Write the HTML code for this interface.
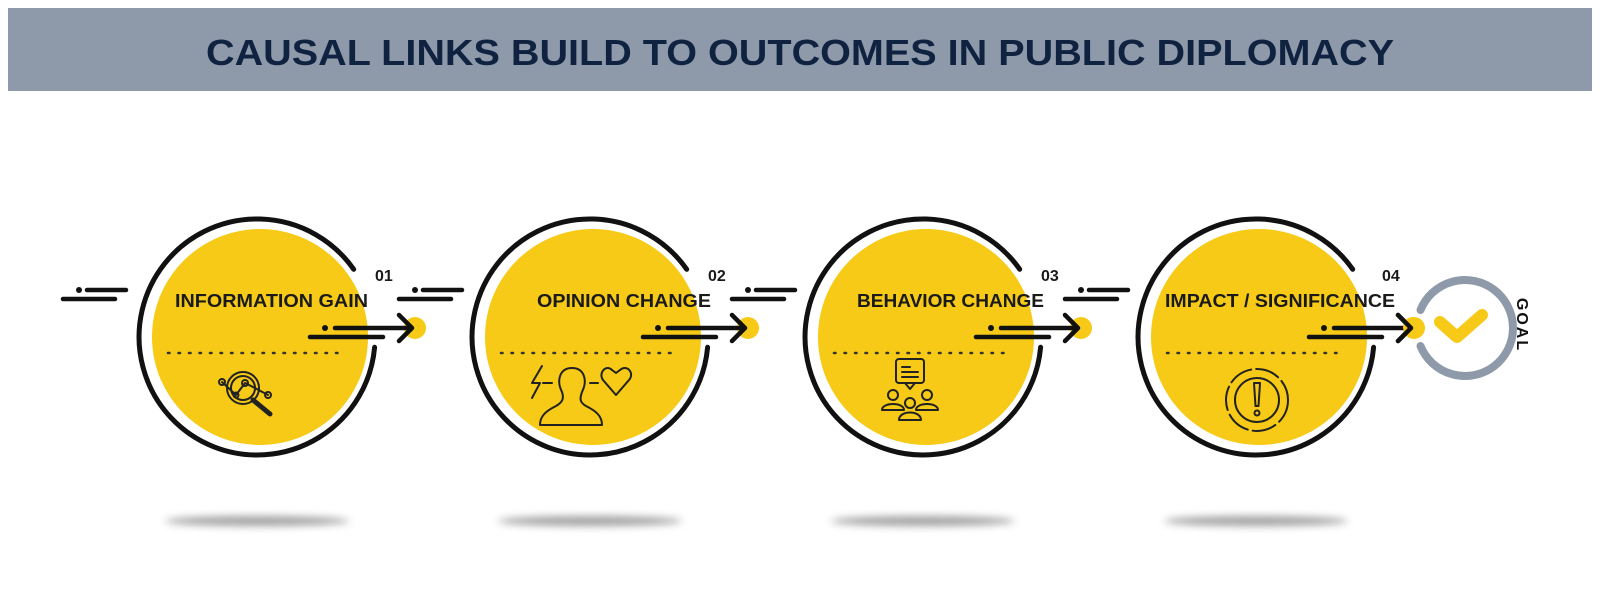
<!DOCTYPE html>
<html><head><meta charset="utf-8"><style>
html,body{margin:0;padding:0;background:#fff;width:1600px;height:592px;overflow:hidden}
svg{display:block}
</style></head><body>
<svg width="1600" height="592" viewBox="0 0 1600 592" xmlns="http://www.w3.org/2000/svg" font-family="'Liberation Sans', sans-serif">
<defs>
<filter id="bl" x="-50%" y="-300%" width="200%" height="700%"><feGaussianBlur stdDeviation="4"/></filter>
<g id="step">
  <ellipse cx="0" cy="184" rx="92" ry="5" fill="#555" opacity="0.55" filter="url(#bl)"/>
  <circle cx="3" cy="0" r="108" fill="#F6CA17"/>
  <path d="M117.6 10.3 A118 118 0 1 1 96.7 -67.7" fill="none" stroke="#111" stroke-width="5" stroke-linecap="round"/>
  <line x1="-89" y1="16" x2="81" y2="16" stroke="#333" stroke-width="2.5" stroke-dasharray="1.5 9" stroke-linecap="round"/>
  <circle cx="158" cy="-9" r="11" fill="#F6CA17"/>
  <circle cx="68" cy="-9" r="3" fill="#111"/>
  <line x1="78" y1="-9" x2="152" y2="-9" stroke="#111" stroke-width="4.5" stroke-linecap="round"/>
  <line x1="53" y1="0" x2="126" y2="0" stroke="#111" stroke-width="4.5" stroke-linecap="round"/>
  <polyline points="142,-22 155,-9 142,4" fill="none" stroke="#111" stroke-width="4.5" stroke-linecap="round" stroke-linejoin="round"/>
</g>
<g id="dash">
  <circle cx="0" cy="0" r="3" fill="#111"/>
  <line x1="8" y1="0" x2="47" y2="0" stroke="#111" stroke-width="4.5" stroke-linecap="round"/>
  <line x1="-16" y1="9" x2="36" y2="9" stroke="#111" stroke-width="4.5" stroke-linecap="round"/>
</g>
</defs>

<rect x="8" y="8" width="1584" height="83" fill="#8E99AA"/>
<text x="800" y="65" text-anchor="middle" font-size="36" font-weight="bold" fill="#0F2240" textLength="1188" lengthAdjust="spacingAndGlyphs">CAUSAL LINKS BUILD TO OUTCOMES IN PUBLIC DIPLOMACY</text>

<use href="#dash" x="79" y="290"/>
<use href="#step" x="257" y="337"/>
<use href="#step" x="590" y="337"/>
<use href="#step" x="923" y="337"/>
<use href="#step" x="1256" y="337"/>
<use href="#dash" x="415" y="290"/>
<use href="#dash" x="748" y="290"/>
<use href="#dash" x="1081" y="290"/>

<g font-weight="bold" fill="#1a1a1a" font-size="18">
<text x="175" y="307" textLength="193" lengthAdjust="spacingAndGlyphs">INFORMATION GAIN</text>
<text x="537" y="307" textLength="174" lengthAdjust="spacingAndGlyphs">OPINION CHANGE</text>
<text x="857" y="307" textLength="187" lengthAdjust="spacingAndGlyphs">BEHAVIOR CHANGE</text>
<text x="1165" y="307" textLength="230" lengthAdjust="spacingAndGlyphs">IMPACT / SIGNIFICANCE</text>
<g font-size="16">
<text x="375" y="281">01</text>
<text x="708" y="281">02</text>
<text x="1041" y="281">03</text>
<text x="1382" y="281">04</text>
</g>
</g>

<!-- goal -->
<path d="M1420.5 310 A48 48 0 1 1 1420.5 346" fill="none" stroke="#8E99AA" stroke-width="8" stroke-linecap="round"/>
<circle cx="1413" cy="327" r="10" fill="#F6CA17"/>
<polyline points="1440,322 1457,337 1482,315" fill="none" stroke="#F6CA17" stroke-width="12" stroke-linecap="round" stroke-linejoin="round"/>
<polyline points="1398,315 1411,328 1398,341" fill="none" stroke="#111" stroke-width="4.5" stroke-linecap="round" stroke-linejoin="round"/>
<text transform="translate(1517,325) rotate(90)" text-anchor="middle" font-size="16" font-weight="bold" fill="#111" letter-spacing="2">GOAL</text>

<!-- icons -->
<g fill="none" stroke="#222" stroke-width="2" stroke-linecap="round" stroke-linejoin="round">
  <circle cx="243" cy="388" r="16"/>
  <circle cx="243" cy="388" r="12"/>
  <line x1="253" y1="400" x2="270" y2="414" stroke-width="5"/>
  <polyline points="222,382 236,395 245,383 253,387 268,395"/>
  <circle cx="222" cy="382" r="3"/><circle cx="245" cy="383" r="3"/><circle cx="268" cy="395" r="3"/><circle cx="236" cy="395" r="2.5"/>
  <polyline points="542,366 532,383 540,383 532,398"/>
  <line x1="543" y1="383" x2="552" y2="383"/>
  <path d="M562 392 C556 380 560 368 572 368 C584 368 588 380 582 392 C580 398 579 402 586 406 C596 411 602 416 602 425 L540 425 C540 416 546 411 556 406 C563 402 564 398 562 392 Z"/>
  <line x1="590" y1="383" x2="598" y2="383"/>
  <path d="M616 395 L603 380 C598 373 606 364 612 370 L616 373 L620 370 C627 364 635 373 629 380 Z"/>
  <rect x="896" y="359" width="28" height="24" rx="3"/>
  <polyline points="905,383 910,389 915,383"/>
  <line x1="902" y1="367" x2="910" y2="367"/><line x1="902" y1="372" x2="918" y2="372"/><line x1="902" y1="377" x2="918" y2="377"/>
  <circle cx="893" cy="395" r="5"/><path d="M882 410 C882 402 904 402 904 410 Z"/>
  <circle cx="927" cy="395" r="5"/><path d="M916 410 C916 402 938 402 938 410 Z"/>
  <circle cx="910" cy="403" r="5"/><path d="M899 420 C899 410 921 410 921 420 Z"/>
  <circle cx="1257" cy="400" r="22"/>
  <circle cx="1257" cy="400" r="31" stroke-dasharray="24 5"/>
  <path d="M1254 383 L1260 383 L1258.5 406 L1255.5 406 Z"/>
  <circle cx="1257" cy="413" r="2.5"/>
</g>
</svg>
</body></html>
